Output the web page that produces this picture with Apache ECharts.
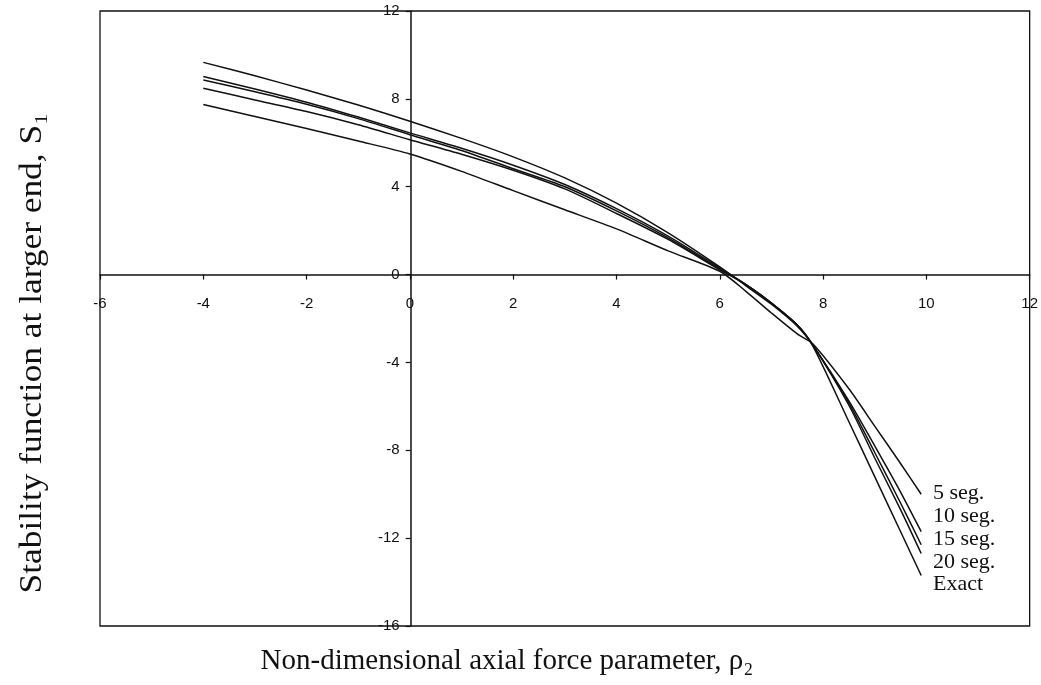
<!DOCTYPE html>
<html><head><meta charset="utf-8">
<script src="https://cdn.jsdelivr.net/npm/echarts@6/dist/echarts.min.js"></script>
<style>html,body{margin:0;padding:0;background:#fff}#c{width:1041px;height:685px}</style>
</head><body><div id="c"></div>
<script>
// Non-dimensional axial force parameter values
const rho    = [-4, -3, -2, -1, 0, 1, 2, 3, 4, 5, 6, 6.5, 7, 7.5, 7.8, 8.5, 9, 9.5, 9.9];
// Stability function S1 for each approximation
const seg5   = [7.74, 7.2, 6.65, 6.08, 5.49, 4.7, 3.82, 2.95, 2.08, 1.08, 0.15, -0.75, -1.75, -2.7, -3.15, -5.2, -6.9, -8.6, -10.0];
const seg10  = [8.48, 7.95, 7.42, 6.82, 6.14, 5.48, 4.75, 3.9, 2.78, 1.6, 0.22, -0.45, -1.3, -2.3, -3.2, -5.75, -7.8, -9.9, -11.7];
const seg15  = [8.86, 8.32, 7.75, 7.1, 6.37, 5.65, 4.82, 4.0, 2.9, 1.67, 0.25, -0.45, -1.3, -2.3, -3.2, -5.85, -8.1, -10.4, -12.3];
const seg20  = [9.02, 8.45, 7.85, 7.17, 6.45, 5.75, 4.98, 4.1, 3.0, 1.75, 0.3, -0.45, -1.3, -2.3, -3.2, -5.95, -8.35, -10.7, -12.7];
const exact  = [9.66, 9.05, 8.4, 7.72, 6.98, 6.2, 5.36, 4.4, 3.25, 1.9, 0.35, -0.5, -1.35, -2.35, -3.25, -6.7, -9.2, -11.7, -13.7];
const seriesNames = ['5 seg.', '10 seg.', '15 seg.', '20 seg.', 'Exact'];
const seriesData = [seg5, seg10, seg15, seg20, exact];
const xMin = -6, xMax = 12, xStep = 2;
const yMin = -16, yMax = 12, yStep = 4;
const xTitle = 'Non-dimensional axial force parameter, ρ₂';
const yTitle = 'Stability function at larger end, S₁';

const W = 1041, H = 685;
const G = {left: 100, right: 9, top: 11, bottom: 59};
const gw = W - G.left - G.right, gh = H - G.top - G.bottom;
// axes cross at zero: shift them from grid edges
const xAxisOffset = -gh * (0 - yMin) / (yMax - yMin);
const yAxisOffset = -gw * (0 - xMin) / (xMax - xMin);

const chart = echarts.init(document.getElementById('c'), null, {renderer: 'canvas'});
const labelFont = {color: '#111', fontFamily: 'Liberation Sans, Arial, sans-serif', fontSize: 15};
const serif = 'Liberation Serif, Times New Roman, serif';

const labelYs = [493, 516, 539, 562, 584];
const graphic = [
  {type: 'text', x: 507, y: 661, style: {text: xTitle, font: '29px ' + serif, fill: '#111', textAlign: 'center', textVerticalAlign: 'middle'}},
  {type: 'text', rotation: Math.PI / 2, scaleX: 1.14, x: 33, y: 353, style: {text: yTitle, font: '31px ' + serif, fill: '#111', textAlign: 'center', textVerticalAlign: 'middle'}}
];
seriesNames.forEach((n, i) => {
  graphic.push({type: 'text', x: 933, y: labelYs[i], style: {text: n, font: '22px ' + serif, fill: '#111', textAlign: 'left', textVerticalAlign: 'middle'}});
});

chart.setOption({
  animation: false,
  backgroundColor: '#fff',
  grid: {left: G.left, right: G.right, top: G.top, bottom: G.bottom, show: true, borderColor: '#111', borderWidth: 1.3, backgroundColor: 'transparent'},
  xAxis: {
    type: 'value', min: xMin, max: xMax, interval: xStep, position: 'bottom', offset: xAxisOffset,
    axisLine: {onZero: false, lineStyle: {color: '#111', width: 1.5}},
    axisTick: {show: true, length: 5, lineStyle: {color: '#111', width: 1.2}},
    axisLabel: Object.assign({margin: 22, showMinLabel: true, showMaxLabel: true}, labelFont),
    splitLine: {show: false}
  },
  yAxis: {
    type: 'value', min: yMin, max: yMax, interval: yStep, position: 'left', offset: yAxisOffset,
    axisLine: {onZero: false, lineStyle: {color: '#111', width: 1.5}},
    axisTick: {show: true, length: 5, lineStyle: {color: '#111', width: 1.2}},
    axisLabel: Object.assign({margin: 11, showMinLabel: true, showMaxLabel: true}, labelFont),
    splitLine: {show: false}
  },
  series: seriesNames.map((n, i) => ({
    name: n, type: 'line', showSymbol: false, smooth: 0.25,
    lineStyle: {color: '#111', width: 1.5},
    data: rho.map((x, j) => [x, seriesData[i][j]])
  })),
  graphic: graphic
});
</script>
</body></html>
